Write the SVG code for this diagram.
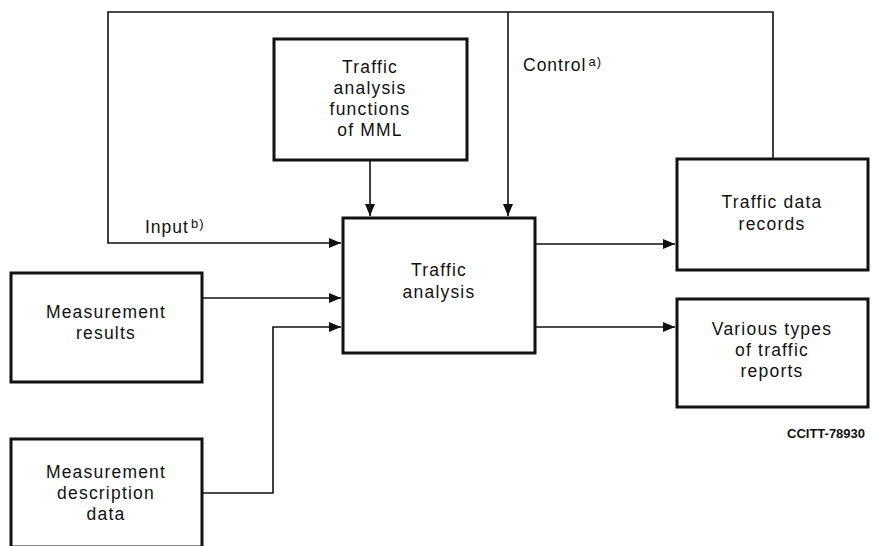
<svg xmlns="http://www.w3.org/2000/svg" width="872" height="546" viewBox="0 0 872 546">
<style>
.box{fill:#fff;stroke:#111;stroke-width:3}
.ln{fill:none;stroke:#111;stroke-width:1.6}
.t{font-family:"Liberation Sans",Arial,sans-serif;font-size:17.5px;letter-spacing:1.2px;fill:#111;text-anchor:middle}
.lbl{font-family:"Liberation Sans",Arial,sans-serif;font-size:17.5px;letter-spacing:1px;fill:#111}
.sup{font-size:13px}
.ref{font-family:"Liberation Sans",Arial,sans-serif;font-size:13px;fill:#111;font-weight:bold}
</style>
<defs>
<marker id="ah" markerUnits="userSpaceOnUse" markerWidth="12" markerHeight="12" viewBox="0 0 12 12" refX="12" refY="6" orient="auto">
<path d="M0,1 L12,6 L0,11 Z" fill="#111"/>
</marker>
</defs>
<g id="connectors">
<path class="ln" d="M773,159 V12 H108 V243 H341" marker-end="url(#ah)"/>
<path class="ln" d="M508,12 V216" marker-end="url(#ah)"/>
<path class="ln" d="M370,160 V216" marker-end="url(#ah)"/>
<path class="ln" d="M202,298 H341" marker-end="url(#ah)"/>
<path class="ln" d="M202,493 H273 V327 H341" marker-end="url(#ah)"/>
<path class="ln" d="M535,244 H675" marker-end="url(#ah)"/>
<path class="ln" d="M535,327 H675" marker-end="url(#ah)"/>
</g>
<g id="labels">
<text class="lbl" x="523" y="71">Control<tspan class="sup" dx="2" dy="-5">a)</tspan></text>
<text class="lbl" x="145" y="233">Input<tspan class="sup" dx="2" dy="-5">b)</tspan></text>
<text class="ref" x="787" y="438">CCITT-78930</text>
</g>
<g id="mml">
<rect class="box" x="274" y="39" width="193" height="121"/>
<text class="t" x="370" y="73">Traffic</text>
<text class="t" x="370" y="94">analysis</text>
<text class="t" x="370" y="115">functions</text>
<text class="t" x="370" y="136">of MML</text>
</g>
<g id="analysis">
<rect class="box" x="343" y="218" width="192" height="135"/>
<text class="t" x="439" y="276">Traffic</text>
<text class="t" x="439" y="298">analysis</text>
</g>
<g id="records">
<rect class="box" x="677" y="159" width="191" height="111"/>
<text class="t" x="772" y="208">Traffic data</text>
<text class="t" x="772" y="230">records</text>
</g>
<g id="reports">
<rect class="box" x="677" y="299" width="191" height="108"/>
<text class="t" x="772" y="335">Various types</text>
<text class="t" x="772" y="356">of traffic</text>
<text class="t" x="772" y="377">reports</text>
</g>
<g id="results">
<rect class="box" x="11" y="273" width="191" height="109"/>
<text class="t" x="106" y="318">Measurement</text>
<text class="t" x="106" y="339">results</text>
</g>
<g id="description">
<rect class="box" x="11" y="439" width="191" height="108"/>
<text class="t" x="106" y="478">Measurement</text>
<text class="t" x="106" y="499">description</text>
<text class="t" x="106" y="520">data</text>
</g>
</svg>
